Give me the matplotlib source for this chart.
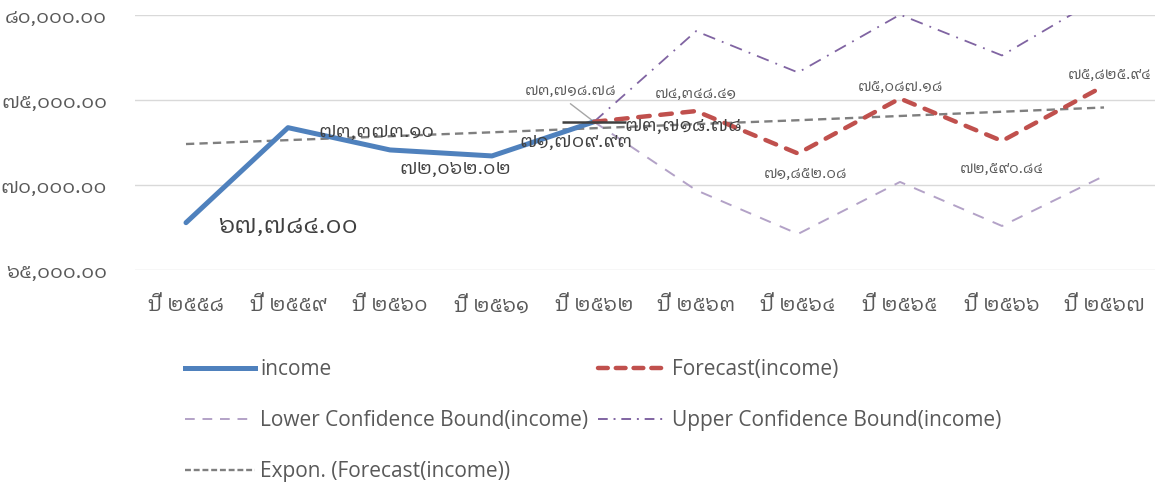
import matplotlib
matplotlib.use("Agg")
import matplotlib.pyplot as plt
from matplotlib import font_manager
from matplotlib.lines import Line2D

# ---- data ----
years = ["ปี ๒๕๕๘", "ปี ๒๕๕๙", "ปี ๒๕๖๐", "ปี ๒๕๖๑", "ปี ๒๕๖๒",
         "ปี ๒๕๖๓", "ปี ๒๕๖๔", "ปี ๒๕๖๕", "ปี ๒๕๖๖", "ปี ๒๕๖๗"]
income = [67784.00, 73373.10, 72062.02, 71709.93, 73718.78]
forecast = [73718.78, 74348.41, 71852.08, 75087.18, 72590.84, 75825.94]
lower = [73718.78, 69700, 67120, 70180, 67590, 70530]
upper = [73718.78, 79050, 76620, 80020, 77620, 81150]
expon = [72410, 72640, 72870, 73100, 73340, 73580, 73810, 74060, 74310, 74560]
yticks = [65000, 70000, 75000, 80000]

# ---- fonts: find one with Thai glyphs (prefer regular weight) ----
cands = []
try:
    from fontTools.ttLib import TTFont
    for fe in font_manager.fontManager.ttflist:
        try:
            f = TTFont(fe.fname, fontNumber=0, lazy=True)
            cmap = f.getBestCmap()
            if cmap and ord("๑") in cmap and ord("ป") in cmap:
                w = fe.weight if isinstance(fe.weight, int) else 400
                cands.append((fe.name, w, fe.style))
        except Exception:
            pass
except Exception:
    pass
thai_fam = None
regular = [c for c in cands if c[1] == 400 and c[2] == "normal"]
pool = regular or cands
if pool:
    pool.sort(key=lambda c: (0 if "Sans" in c[0] else 1, 0 if "Looped" in c[0] else 1, c[0]))
    thai_fam = pool[0][0]
fams = ([thai_fam] if thai_fam else []) + ["DejaVu Sans"]
plt.rcParams["font.family"] = fams
plt.rcParams["font.weight"] = "normal"

TH = str.maketrans("0123456789", "๐๑๒๓๔๕๖๗๘๙")
def th(v):
    return f"{v:,.2f}".translate(TH)

fig = plt.figure(figsize=(11.6, 4.84), dpi=100)
ax = fig.add_axes([135/1160, 1-270/484, (1155-135)/1160, (270-15)/484])

x_inc = list(range(len(income)))
x_fc = list(range(len(income)-1, len(years)))
x_all = list(range(len(years)))

ax.plot(x_fc, upper, color="#8064A2", lw=1.3, dashes=(7, 4, 1, 4), zorder=2)
ax.plot(x_fc, lower, color="#B3A2C7", lw=1.4, dashes=(6, 5), zorder=2)
ax.plot(x_all, expon, color="#7F7F7F", lw=1.7, dashes=(3.5, 2.2), zorder=3)
ax.plot(x_inc, income, color="#4F81BD", lw=3.6, solid_capstyle="round", zorder=4)
ax.plot(x_fc, forecast, color="#C0504D", lw=3.2, dashes=(2.6, 2.4), dash_capstyle="round", zorder=5)
ax.plot([x_inc[-1]], [income[-1]], marker="_", markersize=46, mew=1.8, color="#404040", zorder=6)

ax.set_xlim(-0.5, len(years)-0.5)
ax.set_ylim(65000, 80000)
ax.set_yticks(yticks)
ax.set_yticklabels([th(v) for v in yticks])
ax.set_xticks(x_all)
ax.set_xticklabels(years)
ax.tick_params(axis="y", length=0, labelsize=14.5, colors="#595959", pad=20)
ax.tick_params(axis="x", length=0, labelsize=15, colors="#595959", pad=19)
ax.grid(axis="y", color="#D9D9D9", lw=1)
ax.set_axisbelow(True)
for s in ax.spines.values():
    s.set_visible(False)

# income labels
inc_off = [(23, -3), (22, -3), (7, -14), (20, 10), (22, -3)]
inc_size = [18, 14, 14, 14, 14]
for i, (v, off, fs) in enumerate(zip(income, inc_off, inc_size)):
    ax.annotate(th(v), (i, v), xytext=off, textcoords="offset points",
                ha="left", va="center", fontsize=fs, color="#404040", zorder=7)
# forecast labels
fc_off = [(-17, 22), (0, 12), (5, -15), (0, 8), (0, -20), (4, 8)]
for j, (i, v, off) in enumerate(zip(x_fc, forecast, fc_off)):
    ax.annotate(th(v), (i, v), xytext=off, textcoords="offset points",
                ha="center", va="center", fontsize=11, color="#595959", zorder=7)
ax.annotate("", (x_fc[0], forecast[0]), xytext=(-17, 13), textcoords="offset points",
            arrowprops=dict(arrowstyle="-", color="#A6A6A6", lw=1, shrinkA=0, shrinkB=0))

handles = [
    Line2D([], [], color="#4F81BD", lw=3.6),
    Line2D([], [], color="#B3A2C7", lw=1.4, dashes=(5, 4)),
    Line2D([], [], color="#7F7F7F", lw=1.7, dashes=(2.5, 1.2)),
    Line2D([], [], color="#C0504D", lw=3.2, dashes=(2.2, 1.8), dash_capstyle="round"),
    Line2D([], [], color="#8064A2", lw=1.4, dashes=(5, 3, 1, 3)),
]
labels = ["income", "Lower Confidence Bound(income)", "Expon. (Forecast(income))",
          "Forecast(income)", "Upper Confidence Bound(income)"]
leg = fig.legend(handles, labels, ncol=2, loc="upper left", bbox_to_anchor=(185/1160, 1-359/484),
                 frameon=False, handlelength=3.36, handletextpad=0.24,
                 columnspacing=0.45, labelspacing=1.45, borderpad=0, borderaxespad=0,
                 prop={"family": ["Open Sans", "DejaVu Sans"], "size": 15})
for t in leg.get_texts():
    t.set_color("#595959")

fig.savefig("out.png", dpi=100)
